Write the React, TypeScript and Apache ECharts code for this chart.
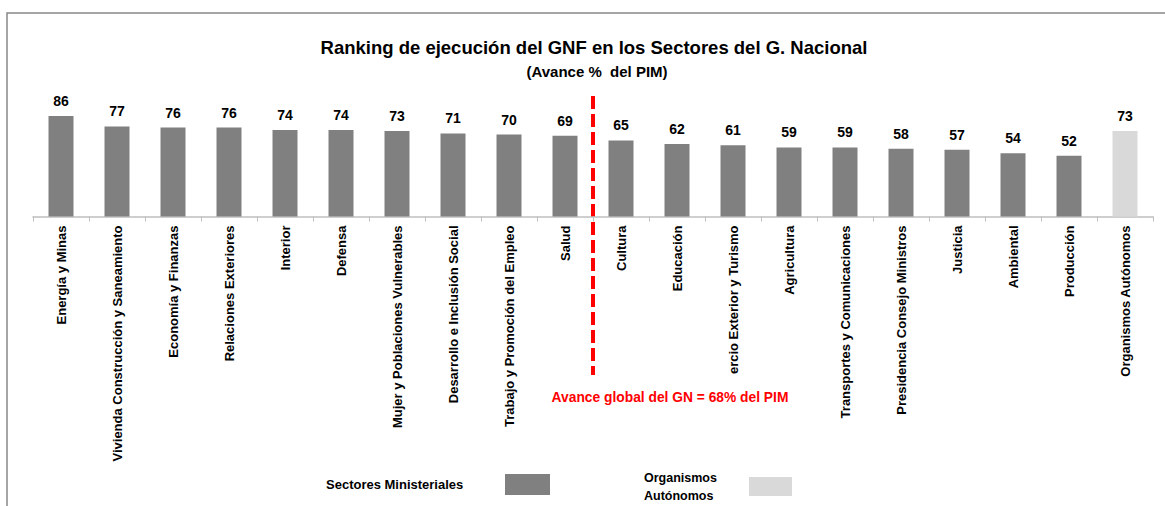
import React, { useEffect, useRef } from "react";
import * as echarts from "echarts";

const categories = [
  "Energía y Minas",
  "Vivienda Construcción y Saneamiento",
  "Economía y Finanzas",
  "Relaciones Exteriores",
  "Interior",
  "Defensa",
  "Mujer y Poblaciones Vulnerables",
  "Desarrollo e Inclusión Social",
  "Trabajo y Promoción del Empleo",
  "Salud",
  "Cultura",
  "Educación",
  "Comercio Exterior y Turismo",
  "Agricultura",
  "Transportes y Comunicaciones",
  "Presidencia Consejo Ministros",
  "Justicia",
  "Ambiental",
  "Producción",
  "Organismos Autónomos",
];

const values = [86, 77, 76, 76, 74, 74, 73, 71, 70, 69, 65, 62, 61, 59, 59, 58, 57, 54, 52, 73];

// label as visible (clipped) in the reference
const clippedLabels: Record<string, string> = {
  "Comercio Exterior y Turismo": "ercio Exterior y Turismo",
};

const autonomousCategory = "Organismos Autónomos";
const lastMinisterialCategory = "Salud";
const firstBelowCategory = "Cultura";

const titleText = "Ranking de ejecución del GNF en los Sectores del G. Nacional";
const subtitleText = "(Avance %  del PIM)";
const globalText = "Avance global del GN = 68% del PIM";
const legendNames = ["Sectores Ministeriales", "Organismos\nAutónomos"];

const DARK = "#808080";
const LIGHT = "#d9d9d9";
const FONT = "'Liberation Sans', Arial, sans-serif";

export default function App() {
  const ref = useRef<HTMLDivElement>(null);
  useEffect(() => {
    document.body.style.margin = "0";
    const chart = echarts.init(ref.current!, null, { renderer: "svg" });
    chart.setOption({
      animation: false,
      grid: { left: 33, right: 12, top: 99.5, bottom: 289.5 },
      xAxis: {
        type: "category",
        data: categories,
        axisLine: { lineStyle: { color: "#bfbfbf", width: 1.5 } },
        axisTick: { show: true, length: 5, lineStyle: { color: "#bfbfbf", width: 1 } },
        axisLabel: {
          rotate: 90,
          interval: 0,
          margin: 9,
          fontSize: 13,
          fontWeight: "bold",
          color: "#000",
          fontFamily: FONT,
          formatter: (v: string) => clippedLabels[v] ?? v,
        },
      },
      yAxis: { type: "value", min: 0, max: 100, show: false, splitLine: { show: false } },
      series: [
        {
          type: "bar",
          barWidth: 25,
          data: values.map((v, i) => ({
            value: v,
            itemStyle: { color: categories[i] === autonomousCategory ? LIGHT : DARK },
          })),
          label: {
            show: true,
            position: "top",
            distance: 8,
            fontSize: 14,
            fontWeight: "bold",
            color: "#000",
            fontFamily: FONT,
          },
        },
      ],
    });

    const xa = chart.convertToPixel({ xAxisIndex: 0 }, lastMinisterialCategory) as number;
    const xb = chart.convertToPixel({ xAxisIndex: 0 }, firstBelowCategory) as number;
    const xm = (xa + xb) / 2;

    chart.setOption({
      graphic: [
        {
          id: "frame",
          type: "polyline",
          shape: { points: [[7, 506], [7, 13], [1165, 13]] },
          style: { stroke: "#888", lineWidth: 1.5, fill: null },
        },
        {
          id: "title",
          type: "text",
          x: 594,
          y: 47,
          style: {
            text: titleText,
            fontSize: 18.5,
            fontWeight: "bold",
            fontFamily: FONT,
            fill: "#000",
            textAlign: "center",
            textVerticalAlign: "middle",
          },
        },
        {
          id: "subtitle",
          type: "text",
          x: 597,
          y: 71,
          style: {
            text: subtitleText,
            fontSize: 15,
            fontWeight: "bold",
            fontFamily: FONT,
            fill: "#000",
            textAlign: "center",
            textVerticalAlign: "middle",
          },
        },
        {
          id: "avgline",
          type: "line",
          shape: { x1: xm, y1: 96, x2: xm, y2: 375 },
          style: { stroke: "#ff0000", lineWidth: 4, lineDash: [13, 5] },
        },
        {
          id: "avgtext",
          type: "text",
          x: 670,
          y: 397,
          style: {
            text: globalText,
            fontSize: 13.8,
            fontWeight: "bold",
            fontFamily: FONT,
            fill: "#ff0000",
            textAlign: "center",
            textVerticalAlign: "middle",
          },
        },
        {
          id: "lg1t",
          type: "text",
          x: 326,
          y: 484,
          style: {
            text: legendNames[0],
            fontSize: 13,
            fontWeight: "bold",
            fontFamily: FONT,
            fill: "#000",
            textAlign: "left",
            textVerticalAlign: "middle",
          },
        },
        {
          id: "lg1r",
          type: "rect",
          shape: { x: 505, y: 474, width: 45, height: 21 },
          style: { fill: DARK },
        },
        {
          id: "lg2t",
          type: "text",
          x: 644,
          y: 487,
          style: {
            text: legendNames[1],
            fontSize: 12.5,
            fontWeight: "bold",
            fontFamily: FONT,
            fill: "#000",
            textAlign: "left",
            textVerticalAlign: "middle",
            lineHeight: 18,
          },
        },
        {
          id: "lg2r",
          type: "rect",
          shape: { x: 749, y: 477, width: 43, height: 19 },
          style: { fill: LIGHT },
        },
      ],
    });

    return () => chart.dispose();
  }, []);
  return (
    <div
      ref={ref}
      style={{ position: "absolute", left: 0, top: 0, width: 1165, height: 506, background: "#fff" }}
    />
  );
}
